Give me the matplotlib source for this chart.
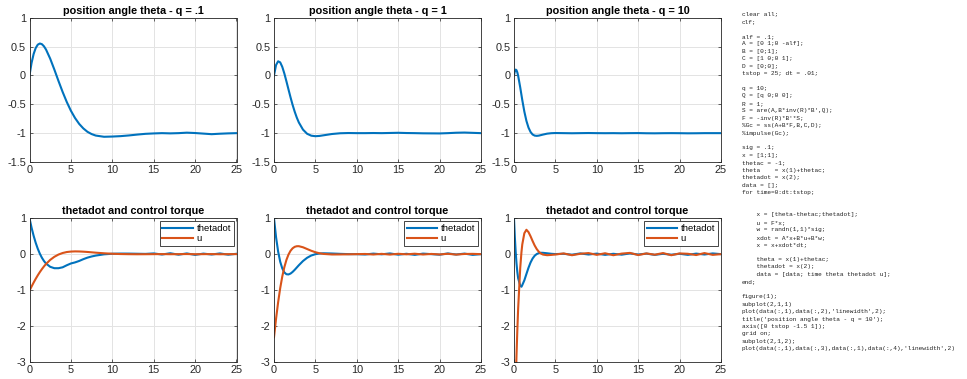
import matplotlib
matplotlib.use('Agg')
import matplotlib.pyplot as plt
from matplotlib.ticker import FixedLocator, FixedFormatter

plt.rcParams['font.family'] = ['Liberation Sans', 'DejaVu Sans']
plt.rcParams['axes.unicode_minus'] = False

BLUE = '#0072BD'
ORANGE = '#D95319'
DARK = '#262626'

# ---------------- data ----------------
q_labels = ['.1', '1', '10']

# q = .1
t_q01 = [0, 0.25, 0.5, 0.75, 1, 1.25, 1.5, 1.75, 2,
         2.5, 3, 3.5, 4, 4.5, 5, 5.5, 6, 6.5, 7, 7.5, 8,
         9, 10, 11, 12, 13, 14, 15, 16, 17, 18, 19, 20, 21, 22, 23, 24, 25]
theta_q01 = [0, 0.217, 0.372, 0.475, 0.533, 0.553, 0.541, 0.504, 0.447,
             0.290, 0.102, -0.096, -0.286, -0.460, -0.612, -0.738, -0.840, -0.918, -0.977, -1.016, -1.042,
             -1.063, -1.059, -1.052, -1.040, -1.025, -1.012, -1.005, -1.000, -1.004, -1.000, -0.992,
             -0.998, -1.008, -1.018, -1.010, -1.004, -1.000]
thetadot_q01 = [1, 0.738, 0.511, 0.316, 0.150, 0.012, -0.101, -0.192, -0.263,
                -0.353, -0.392, -0.392, -0.367, -0.310, -0.260, -0.230, -0.190, -0.140, -0.097, -0.065, -0.040,
                -0.005, 0.011, 0.016, 0.015, 0.011, 0.007, 0.020, -0.010, 0.025, -0.015, 0.020,
                -0.020, 0.015, -0.010, 0.020, -0.015, 0.010]
u_q01 = [-1.018, -0.903, -0.792, -0.688, -0.590, -0.500, -0.417, -0.341, -0.273,
         -0.160, -0.074, -0.011, 0.032, 0.059, 0.072, 0.077, 0.075, 0.069, 0.061, 0.051, 0.041,
         0.024, 0.011, 0.003, -0.001, -0.003, -0.002, 0.000, 0.002, -0.002, 0.000, 0.003,
         -0.002, 0.000, 0.002, -0.003, 0.000, 0.001]

# q = 1
t_q1 = [0, 0.25, 0.5, 0.75, 1, 1.25, 1.5, 1.75, 2, 2.25, 2.5, 2.75, 3,
        3.5, 4, 4.5, 5, 5.5, 6, 7, 8, 9, 10,
        11, 12, 13, 14, 15, 16, 17, 18, 19, 20, 21, 22, 23, 24, 25]
theta_q1 = [0, 0.181, 0.245, 0.226, 0.148, 0.033, -0.102, -0.243, -0.382, -0.512, -0.628, -0.730, -0.815,
            -0.939, -1.011, -1.044, -1.053, -1.048, -1.037, -1.015, -1.002, -0.998, -1.000,
            -1.000, -0.998, -1.000, -0.997, -0.994, -0.998, -1.000, -1.003, -1.004, -1.005,
            -1.000, -0.993, -0.990, -0.995, -1.000]
thetadot_q1 = [1, 0.469, 0.071, -0.211, -0.398, -0.509, -0.560, -0.566, -0.541, -0.495, -0.437, -0.373, -0.309,
               -0.192, -0.101, -0.038, -0.001, 0.018, 0.024, 0.018, 0.008, 0.001, 0.000,
               -0.010, 0.015, -0.005, 0.020, -0.015, 0.010, -0.020, 0.015, 0.000, -0.015,
               0.020, -0.010, 0.015, -0.020, 0.000]
u_q1 = [-2.318, -1.798, -1.339, -0.947, -0.623, -0.363, -0.161, -0.011, 0.095, 0.164, 0.204, 0.221, 0.222,
        0.192, 0.143, 0.094, 0.054, 0.024, 0.006, -0.009, -0.008, -0.004, 0.000,
        0.005, -0.010, 0.008, -0.012, 0.010, -0.005, 0.012, -0.010, 0.006, -0.008,
        0.010, -0.012, 0.005, 0.008, 0.000]

# q = 10
t_q10 = [0, 0.1, 0.2, 0.3, 0.4, 0.5, 0.75, 0.9, 1, 1.25, 1.5, 1.75, 2, 2.25, 2.5, 2.75, 3, 3.25, 3.5,
         4, 4.5, 5,
         6, 7, 8, 9, 10, 11, 12, 13, 14, 15, 16, 17, 18, 19, 20, 21, 22, 23, 24, 25]
theta_q10 = [0, 0.073, 0.101, 0.091, 0.053, -0.006, -0.206, -0.339, -0.427, -0.627, -0.788, -0.904, -0.980,
             -1.024, -1.043, -1.047, -1.043, -1.034, -1.025, -1.009, -1.001, -0.998,
             -1.000, -1.002, -1.000, -0.998, -1.000, -1.001, -1.000, -1.002, -1.000, -0.999,
             -1.002, -1.003, -1.001, -1.000, -1.001, -1.003, -1.002, -1.000, -1.000, -1.000]
thetadot_q10 = [1, 0.486, 0.073, -0.250, -0.495, -0.671, -0.880, -0.910, -0.863, -0.730, -0.553, -0.380, -0.232,
                -0.120, -0.043, 0.004, 0.029, 0.038, 0.037, 0.024, 0.010, 0.002,
                0.010, -0.015, 0.020, -0.010, 0.015, -0.020, 0.010, -0.015, 0.020, -0.010,
                0.015, -0.020, 0.010, -0.015, 0.010, -0.020, 0.015, -0.010, 0.020, 0.000]
u_q10 = [-5.579, -4.569, -3.656, -2.845, -2.135, -1.523, -0.390, 0.055, 0.272, 0.584, 0.680, 0.615, 0.498,
         0.364, 0.240, 0.140, 0.066, 0.017, -0.012, -0.029, -0.021, -0.010,
         0.020, -0.030, 0.010, 0.030, -0.020, 0.025, -0.030, 0.015, 0.035, -0.025,
         0.020, -0.015, 0.030, -0.030, 0.020, 0.010, -0.025, 0.030, -0.020, 0.000]

x_ticks = [0, 5, 10, 15, 20, 25]
x_tick_labels = ['0', '5', '10', '15', '20', '25']
top_y_ticks = [-1.5, -1, -0.5, 0, 0.5, 1]
top_y_tick_labels = ['-1.5', '-1', '-0.5', '0', '0.5', '1']
bot_y_ticks = [-3, -2, -1, 0, 1]
bot_y_tick_labels = ['-3', '-2', '-1', '0', '1']
legend_labels = ['thetadot', 'u']
top_title = 'position angle theta - q = '
bot_title = 'thetadot and control torque'

code_lines = [
    "clear all;",
    "clf;",
    "",
    "alf = .1;",
    "A = [0 1;0 -alf];",
    "B = [0;1];",
    "C = [1 0;0 1];",
    "D = [0;0];",
    "tstop = 25; dt = .01;",
    "",
    "q = 10;",
    "Q = [q 0;0 0];",
    "R = 1;",
    "S = are(A,B*inv(R)*B',Q);",
    "F = -inv(R)*B'*S;",
    "%Gc = ss(A+B*F,B,C,D);",
    "%impulse(Gc);",
    "",
    "sig = .1;",
    "x = [1;1];",
    "thetac = -1;",
    "theta    = x(1)+thetac;",
    "thetadot = x(2);",
    "data = [];",
    "for time=0:dt:tstop;",
    "",
    "",
    "    x = [theta-thetac;thetadot];",
    "    u = F*x;",
    "    w = randn(1,1)*sig;",
    "    xdot = A*x+B*u+B*w;",
    "    x = x+xdot*dt;",
    "",
    "    theta = x(1)+thetac;",
    "    thetadot = x(2);",
    "    data = [data; time theta thetadot u];",
    "end;",
    "",
    "figure(1);",
    "subplot(2,1,1)",
    "plot(data(:,1),data(:,2),'linewidth',2);",
    "title('position angle theta - q = 10');",
    "axis([0 tstop -1.5 1]);",
    "grid on;",
    "subplot(2,1,2);",
    "plot(data(:,1),data(:,3),data(:,1),data(:,4),'linewidth',2)",
]

# ---------------- figure ----------------
W, H = 967, 379
fig = plt.figure(figsize=(W / 100, H / 100), dpi=100)

col_left_px = [29.5, 274, 514]
ax_w_px = 207
top_px = (17.7, 162.0)
bot_px = (218.3, 361.7)


def make_ax(left_px, ytop, ybot):
    return fig.add_axes([left_px / W, 1 - ybot / H, ax_w_px / W, (ybot - ytop) / H])


def style(ax, yticks, ylabels, ylim):
    ax.set_xlim(0, 25)
    ax.set_ylim(*ylim)
    ax.xaxis.set_major_locator(FixedLocator(x_ticks))
    ax.xaxis.set_major_formatter(FixedFormatter(x_tick_labels))
    ax.yaxis.set_major_locator(FixedLocator(yticks))
    ax.yaxis.set_major_formatter(FixedFormatter(ylabels))
    ax.tick_params(direction='in', length=2.5, width=0.5, colors=DARK,
                   labelsize=7.8, top=True, right=True, pad=2.5)
    ax.grid(True, color='#e3e3e3', linewidth=0.7)
    ax.set_axisbelow(True)
    for s in ax.spines.values():
        s.set_color(DARK)
        s.set_linewidth(0.6)


series = [
    (t_q01, theta_q01, thetadot_q01, u_q01),
    (t_q1, theta_q1, thetadot_q1, u_q1),
    (t_q10, theta_q10, thetadot_q10, u_q10),
]

for i, (t, th, thd, u) in enumerate(series):
    ax = make_ax(col_left_px[i], *top_px)
    ax.plot(t, th, color=BLUE, linewidth=1.5)
    style(ax, top_y_ticks, top_y_tick_labels, (-1.5, 1))
    ax.set_title(top_title + q_labels[i], fontsize=7.8, fontweight='bold', pad=3)

    ax2 = make_ax(col_left_px[i], *bot_px)
    ax2.plot(t, thd, color=BLUE, linewidth=1.5, label=legend_labels[0])
    ax2.plot(t, u, color=ORANGE, linewidth=1.5, label=legend_labels[1])
    style(ax2, bot_y_ticks, bot_y_tick_labels, (-3, 1))
    ax2.set_title(bot_title, fontsize=7.8, fontweight='bold', pad=3)
    leg = ax2.legend(loc='upper right', fontsize=6.8, frameon=True, fancybox=False,
                     framealpha=1, edgecolor=DARK, handlelength=3.2, handletextpad=0.4,
                     borderpad=0.3, labelspacing=0.1, borderaxespad=0.3)
    leg.get_frame().set_linewidth(0.6)

# code listing on the right
x0 = 742 / W
for k, line in enumerate(code_lines):
    if line:
        fig.text(x0, 1 - (14 + k * 7.44) / H, line, family='Liberation Mono',
                 fontsize=4.4, color='#222222', va='center', ha='left')

fig.savefig('out.png', dpi=100)
